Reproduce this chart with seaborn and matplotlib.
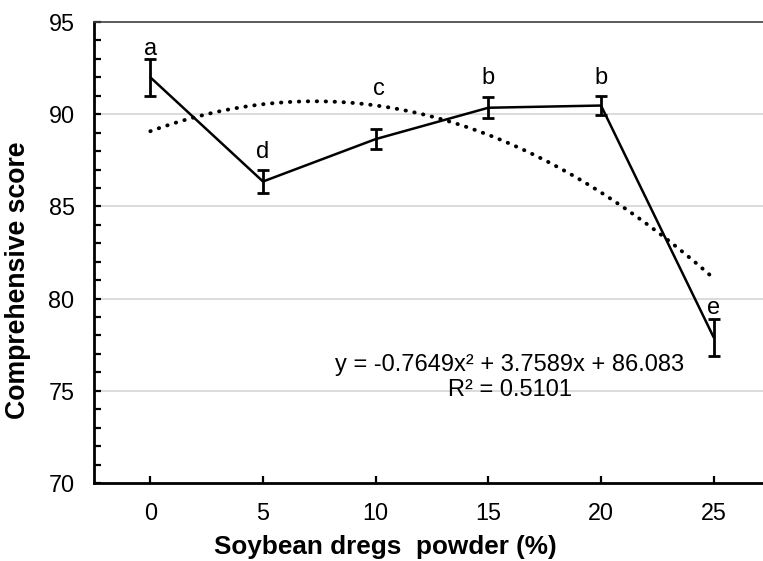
import numpy as np
import pandas as pd
import matplotlib
matplotlib.use("Agg")
import matplotlib.pyplot as plt
import seaborn as sns

# ---- data ----
doses = ["0", "5", "10", "15", "20", "25"]
scores = [92.0, 86.35, 88.65, 90.35, 90.47, 77.9]
errors = [1.0, 0.6, 0.55, 0.57, 0.5, 1.0]
letters = ["a", "d", "c", "b", "b", "e"]
letter_y = [93.55, 87.95, 91.35, 91.95, 91.95, 79.5]
trend_coef = [-0.7649, 3.7589, 86.083]
equation_text = "y = -0.7649x\u00b2 + 3.7589x + 86.083"
r2_text = "R\u00b2 = 0.5101"
y_ticks = [70, 75, 80, 85, 90, 95]

sns.set_theme(style="white")
plt.rcParams["font.family"] = ["Liberation Sans", "DejaVu Sans"]
plt.rcParams["text.color"] = "black"
plt.rcParams["xtick.color"] = "black"
plt.rcParams["ytick.color"] = "black"

W, H = 763, 561
fig = plt.figure(figsize=(W / 100, H / 100), dpi=100)
left, right, top, bottom = 94, 770, 22, 483
ax = fig.add_axes([left / W, 1 - bottom / H, (right - left) / W, (bottom - top) / H])

pos = np.arange(1, len(doses) + 1)
df = pd.DataFrame({"pos": pos, "score": scores})

# gridlines
for yv in y_ticks[1:-1]:
    ax.axhline(yv, color="#d9d9d9", lw=1.3, zorder=0)

# trendline (polynomial shown in the chart)
xt = np.linspace(1, 6, 200)
yt = np.polyval(trend_coef, xt)
ax.plot(xt, yt, color="black", lw=2.8, linestyle=(0, (0.1, 2.2)),
        dash_capstyle="round", zorder=2)

sns.lineplot(data=df, x="pos", y="score", ax=ax, color="black", lw=1.8,
             zorder=3, legend=False)
ax.errorbar(pos, scores, yerr=errors, fmt="none", ecolor="black",
            elinewidth=2.0, capsize=4.6, capthick=2.0, zorder=4)

for p, l, ly in zip(pos, letters, letter_y):
    xo = 0.03 if l == "c" else 0
    ax.text(p + xo, ly, l, ha="center", va="center", fontsize=17, color="black")

ax.text(4.19, 76.4, equation_text, ha="center", va="center", fontsize=17)
ax.text(4.19, 75.05, r2_text, ha="center", va="center", fontsize=17)

ax.set_xlim(0.5, 6.5)
ax.set_ylim(70, 95)
ax.set_xticks(pos)
ax.set_xticklabels(doses)
ax.set_yticks(y_ticks)
ax.set_yticks(np.arange(70, 96, 1), minor=True)
ax.tick_params(axis="y", which="both", direction="in", length=5, width=1.6,
               left=True, pad=14, labelsize=16.8, colors="black")
ax.tick_params(axis="x", which="major", direction="in", length=5, width=1.6,
               bottom=True, pad=14, labelsize=16.8, colors="black")
ax.set_xlabel("")
ax.set_ylabel("")

for s in ["left", "bottom"]:
    ax.spines[s].set_color("black")
    ax.spines[s].set_linewidth(2.0)
ax.spines["right"].set_visible(False)
ax.spines["top"].set_color("#404040")
ax.spines["top"].set_linewidth(1.2)

fig.text(385 / W, 1 - 547 / H, "Soybean dregs  powder (%)", ha="center",
         va="center", fontsize=18.8, fontweight="bold", color="black")
fig.text(18 / W, 1 - 280 / H, "Comprehensive score", ha="center",
         va="center", rotation=90, fontsize=19.2, fontweight="bold", color="black")

fig.savefig("out.png", dpi=100)
